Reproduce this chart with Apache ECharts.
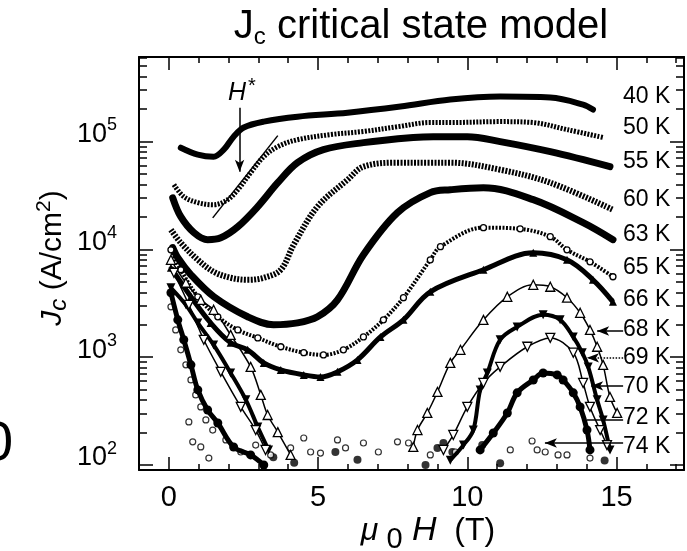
<!DOCTYPE html>
<html><head><meta charset="utf-8">
<script src="https://cdn.jsdelivr.net/npm/echarts/dist/echarts.min.js"></script>
<style>html,body{margin:0;padding:0;background:#fff}#c{width:687px;height:551px}</style>
</head><body><div id="c"></div>
<script>
// ---------------- data (field in tesla, Jc in A/cm^2) ----------------
const H_40K  = [0.4,0.97,1.5,1.84,2.17,2.51,3.18,4.31,5.99,7.76,9.43,11.1,12.78,13.88,14.21];
const Jc_40K = [87700,75700,72400,84100,111000,135000,153000,170000,185000,211000,245000,261000,256000,220000,198000];

const H_50K  = [0.17,0.5,0.97,1.5,1.97,2.31,2.74,3.18,3.65,4.31,5.42,6.52,7.66,8.76,9.43,11.1,12.2,13.34,14.55];
const Jc_50K = [39800,30800,27100,25900,28900,35700,51400,72400,89700,104000,116000,124000,137000,150000,150000,153000,150000,129000,109000];

const H_55K  = [0.13,0.4,0.84,1.3,1.74,2.31,2.98,3.65,4.31,5.18,6.52,8.19,8.86,10.0,11.1,12.78,14.78];
const Jc_55K = [30100,20100,14300,12300,12800,16200,24900,41500,63700,84100,97700,109000,111000,111000,99800,80500,58500];

const H_60K  = [0.07,0.4,0.97,1.5,2.07,2.64,3.18,3.75,4.18,4.98,5.99,6.52,7.66,8.76,9.43,11.1,12.78,14.88];
const Jc_60K = [15200,11500,8000,6200,5450,5220,5450,6470,11000,24900,44300,58500,63700,63700,63700,54800,41500,23300];

const H_63K  = [0.13,0.3,0.74,1.51,2.64,3.51,4.31,4.98,5.65,6.52,7.66,8.76,9.43,10.54,12.21,13.88,14.88];
const Jc_63K = [10400,8360,5810,3630,2370,2000,2080,2370,3400,8910,21900,33600,35700,37300,28900,17700,12300];

const H_65K  = [0.07,0.4,0.97,1.64,2.31,2.98,3.75,4.52,5.18,5.85,6.52,7.19,7.86,8.76,9.1,10.54,11.77,12.78,13.34,14.11,14.88];
const Jc_65K = [9910,6470,3630,2370,1790,1510,1250,1100,1050,1170,1540,2220,3560,8000,10600,15900,15500,13100,9910,7670,5570];

const H_66K  = [0.07,0.74,1.4,2.07,2.64,3.18,3.75,4.52,5.08,5.65,6.32,7.09,7.86,8.76,10.54,12.21,13.34,14.21,14.88];
const Jc_66K = [6750,3630,2080,1360,1170,885,762,685,656,731,944,1540,2220,4040,6470,9290,8000,5220,3260];

const H_68K_low  = [0.07,0.57,1.07,1.5,2.07,2.74,3.08,3.31,3.65,4.08];
const Jc_68K_low = [8000,4900,3400,2750,1610,813,447,291,202,124];
const H_68K_high  = [8.19,8.33,8.66,9.0,9.43,9.77,10.54,11.34,12.21,12.78,13.34,13.78,14.11,14.35,14.55,14.78,15.02];
const Jc_68K_high = [147,211,304,476,885,1170,2220,3630,4690,4500,3560,2580,1790,1250,849,428,304];

const H_69K_low  = [0.07,0.57,0.97,1.5,2.07,2.58,2.98,3.34];
const Jc_69K_low = [4400,3060,2080,1300,714,402,225,138];
const H_69K_high  = [9.43,9.87,10.2,10.43,10.67,11.1,11.67,12.54,13.11,13.55,13.85,14.05,14.35,14.55,14.78];
const Jc_69K_high = [111,153,211,497,714,1450,1910,2470,2220,1540,1100,813,402,262,138];

const H_70K_low  = [0.17,0.67,1.17,1.74,2.41,2.91,3.24];
const Jc_70K_low = [6070,3060,1450,731,346,211,138];
const H_70K_high  = [9.2,9.53,10.0,10.54,11.1,12.01,12.78,13.55,13.88,14.11,14.45,14.68];
const Jc_70K_high = [138,190,346,577,813,1250,1510,1100,577,346,211,153];

const H_72K_low  = [0.07,0.3,0.5,0.74,0.97,1.3,1.64,2.17,2.74,3.18];
const Jc_72K_low = [3960,2220,1450,849,497,324,245,147,124,100];
const H_72K_high  = [10.43,10.87,11.34,11.67,12.21,12.54,13.01,13.21,13.55,13.78,14.01,14.11];
const Jc_72K_high = [138,198,304,467,615,714,685,615,467,346,211,138];
const H_72K_noise  = [3.5,4.2,5.58,6.32,8.6,9.0,9.2,9.5,10.5,11.1,14.6];
const Jc_72K_noise = [118,105,132,112,100,144,160,132,153,104,110];

const H_74K  = [0.07,0.23,0.4,0.57,0.74,0.9,1.07,1.24,0.67,1.47,0.8,1.07,1.34,1.91,2.41,2.91,3.41,4.08,4.52,4.75,5.08,5.65,5.92,6.52,7.02,7.66,8.03,8.76,9.6,11.44,12.17,12.34,12.61,13.04,13.34,14.11];
const Jc_74K = [2930,1790,1170,849,615,447,346,262,251,211,164,147,116,171,132,153,124,144,178,132,129,171,144,160,132,164,160,124,132,138,167,138,132,124,124,116];

// annotations (field, Jc)
const hStarArrowH = [2.37, 2.37], hStarArrowJc = [206000, 52500];
const tangentH = [1.47, 3.65], tangentJc = [19600, 113500];
const pointerStartH = 15.22;
const pointerEndH  = [14.35, 14.01, 14.15, 14.01, 12.6];   // 68,69,70,72,74 K
const pointerJc    = [1750, 986, 542, 262, 160];

// labels and ticks
const tempLabels = ['40 K','50 K','55 K','60 K','63 K','65 K','66 K','68 K','69 K','70 K','72 K','74 K'];
const xTickLabels = [0, 5, 10, 15];
const yDecades = [100, 1000, 10000, 100000];

// ---------------- helpers ----------------
const lg = v => Math.log10(v);
const pts = (xs, ys) => xs.map((x, i) => [x, lg(ys[i])]);
const joinSeg = (a, b) => a.concat([null], b);

const FONT = '"Liberation Sans", Arial, Helvetica, sans-serif';
const X_MIN = -1, X_MAX = 17.26;
const Y_MIN = lg(89.9), Y_MAX = lg(608000);
const decadeLogs = yDecades.map(lg);
const minorLogs = [];
for (let n = 1; n <= 5; n++) for (let k = 2; k <= 9; k++) {
  const v = lg(k * Math.pow(10, n));
  if (v > Y_MIN && v < Y_MAX) minorLogs.push(v);
}
const minorX = [];
for (let v = -1; v <= 17; v++) if (xTickLabels.indexOf(v) < 0) minorX.push(v);

const BLACK = '#000';
const axisLineMain = { show: true, onZero: false, lineStyle: { color: BLACK, width: 2 } };
const axisLineHidden = { show: false, onZero: false };

function xAxisDef(grid, pos, major) {
  return {
    gridIndex: grid, type: 'value', position: pos, min: X_MIN, max: X_MAX,
    axisLine: grid === 0 ? axisLineMain : axisLineHidden,
    axisTick: { show: true, inside: true, length: major ? 13 : 6, customValues: major ? xTickLabels : minorX,
                lineStyle: { color: BLACK, width: 1.5 } },
    axisLabel: (grid === 0 && pos === 'bottom') ?
      { show: true, customValues: xTickLabels, margin: 13, fontSize: 29, color: BLACK, fontFamily: FONT } : { show: false },
    splitLine: { show: false }
  };
}
function yAxisDef(grid, pos, major) {
  return {
    gridIndex: grid, type: 'value', position: pos, min: Y_MIN, max: Y_MAX,
    axisLine: grid === 0 ? axisLineMain : axisLineHidden,
    axisTick: { show: true, inside: true, length: major ? 14 : 8, customValues: major ? decadeLogs : minorLogs,
                lineStyle: { color: BLACK, width: 1.5 } },
    axisLabel: (grid === 0 && pos === 'left') ? {
      show: true, customValues: decadeLogs, margin: 22, padding: [0, 0, 14, 0],
      formatter: v => '{b|10}{s|' + Math.round(v) + '}',
      rich: {
        b: { fontSize: 27, color: BLACK, fontFamily: FONT },
        s: { fontSize: 18, color: BLACK, fontFamily: FONT, padding: [0, 0, 18, 0] }
      }
    } : { show: false },
    splitLine: { show: false }
  };
}

function lineSeries(name, data, o) {
  return Object.assign({
    name, type: 'line', xAxisIndex: 0, yAxisIndex: 0, data,
    smooth: 0.35, connectNulls: false, showSymbol: false, symbol: 'none',
    lineStyle: { color: BLACK, width: 6 }, itemStyle: { color: BLACK },
    silent: true, z: 3
  }, o);
}
const openItem = { color: '#fff', borderColor: BLACK, borderWidth: 1.3 };

const series = [
  lineSeries('40 K', pts(H_40K, Jc_40K), { lineStyle: { color: BLACK, width: 6, cap: 'round' } }),
  lineSeries('50 K', pts(H_50K, Jc_50K), { lineStyle: { color: BLACK, width: 5, type: [2, 1.4] } }),
  lineSeries('55 K', pts(H_55K, Jc_55K), { lineStyle: { color: BLACK, width: 7, cap: 'round' } }),
  lineSeries('60 K', pts(H_60K, Jc_60K), { lineStyle: { color: BLACK, width: 6, type: [2, 1.4] } }),
  lineSeries('63 K', pts(H_63K, Jc_63K), { lineStyle: { color: BLACK, width: 7, cap: 'round' } }),
  lineSeries('65 K', pts(H_65K, Jc_65K), { lineStyle: { color: BLACK, width: 4, type: [2, 1.5] },
    showSymbol: true, symbol: 'circle', symbolSize: 6, itemStyle: openItem }),
  lineSeries('66 K', pts(H_66K, Jc_66K), { lineStyle: { color: BLACK, width: 5 },
    showSymbol: true, symbol: 'triangle', symbolSize: 8 }),
  lineSeries('68 K', joinSeg(pts(H_68K_low, Jc_68K_low), pts(H_68K_high, Jc_68K_high)), {
    lineStyle: { color: BLACK, width: 1.5 }, showSymbol: true, symbol: 'triangle', symbolSize: 9, itemStyle: openItem }),
  lineSeries('69 K', joinSeg(pts(H_69K_low, Jc_69K_low), pts(H_69K_high, Jc_69K_high)), {
    lineStyle: { color: BLACK, width: 4 }, showSymbol: true, symbol: 'triangle', symbolRotate: 180, symbolSize: 9 }),
  lineSeries('70 K', joinSeg(pts(H_70K_low, Jc_70K_low), pts(H_70K_high, Jc_70K_high)), {
    lineStyle: { color: BLACK, width: 1.5 }, showSymbol: true, symbol: 'triangle', symbolRotate: 180, symbolSize: 9, itemStyle: openItem }),
  lineSeries('72 K', joinSeg(pts(H_72K_low, Jc_72K_low), pts(H_72K_high, Jc_72K_high)), {
    lineStyle: { color: BLACK, width: 5 }, showSymbol: true, symbol: 'circle', symbolSize: 9 }),
  { name: '72 K', type: 'scatter', xAxisIndex: 0, yAxisIndex: 0, data: pts(H_72K_noise, Jc_72K_noise),
    symbol: 'circle', symbolSize: 8, itemStyle: { color: BLACK }, silent: true },
  { name: '74 K', type: 'scatter', xAxisIndex: 0, yAxisIndex: 0, data: pts(H_74K, Jc_74K),
    symbol: 'circle', symbolSize: 6, itemStyle: { color: '#fff', borderColor: BLACK, borderWidth: 1.2 }, silent: true },
];

// annotations via markLine
function seg(x1, y1, x2, y2, endSymbol, type) {
  return [
    { coord: [x1, lg(y1)], symbol: 'none', lineStyle: { color: BLACK, width: 1.5, type: type || 'solid' } },
    { coord: [x2, lg(y2)], symbol: endSymbol || 'none', symbolSize: [7, 12] }
  ];
}
const markData = [
  seg(hStarArrowH[0], hStarArrowJc[0], hStarArrowH[1], hStarArrowJc[1], 'arrow'),
  seg(tangentH[0], tangentJc[0], tangentH[1], tangentJc[1], 'none')
];
const ptrSym = ['arrow', 'arrow', 'arrow', 'none', 'arrow'];
const ptrType = ['solid', 'dotted', 'solid', 'solid', 'solid'];
pointerEndH.forEach((h, i) => markData.push(seg(pointerStartH, pointerJc[i], h, pointerJc[i], ptrSym[i], ptrType[i])));
series.push({
  name: 'annotations', type: 'line', xAxisIndex: 0, yAxisIndex: 0, data: [], silent: true,
  markLine: { silent: true, animation: false, label: { show: false }, emphasis: { disabled: true },
              lineStyle: { color: BLACK, width: 1.5, type: 'solid' }, data: markData }
});

// text graphics
const labelY = [97, 128, 162, 200, 235, 268, 300, 330, 358, 387, 418, 447];
const graphics = tempLabels.map((t, i) => ({
  type: 'text', x: 623, y: labelY[i], silent: true,
  style: { text: t, fontSize: 23, fontFamily: FONT, fill: BLACK, align: 'left', verticalAlign: 'middle' }
}));
graphics.push({
  type: 'text', x: 421, y: 27, silent: true,
  style: { text: '{j|J}{c|c}{t| critical state model}', align: 'center', verticalAlign: 'middle',
    rich: { j: { fontSize: 40, fontFamily: FONT, fill: BLACK },
            c: { fontSize: 24, fontFamily: FONT, fill: BLACK, padding: [20, 0, 0, 0] },
            t: { fontSize: 40, fontFamily: FONT, fill: BLACK } } }
});
graphics.push({
  type: 'text', x: 53, y: 258, rotation: Math.PI / 2, silent: true,
  style: { text: '{j|J}{c|c}{n| (A/cm}{s|2}{n|)}', align: 'center', verticalAlign: 'middle',
    rich: { j: { fontSize: 30, fontStyle: 'italic', fontFamily: FONT, fill: BLACK },
            c: { fontSize: 24, fontStyle: 'italic', fontFamily: FONT, fill: BLACK, padding: [12, 0, 0, 0] },
            n: { fontSize: 30, fontFamily: FONT, fill: BLACK },
            s: { fontSize: 21, fontFamily: FONT, fill: BLACK, padding: [0, 0, 18, 0] } } }
});
graphics.push({
  type: 'text', x: 428, y: 531, silent: true,
  style: { text: '{m|μ}{z| 0}{h| H}{n|  (T)}', align: 'center', verticalAlign: 'middle',
    rich: { m: { fontSize: 32, fontStyle: 'italic', fontFamily: FONT, fill: BLACK },
            z: { fontSize: 29, fontFamily: FONT, fill: BLACK, padding: [18, 0, 0, 0] },
            h: { fontSize: 34, fontStyle: 'italic', fontFamily: FONT, fill: BLACK },
            n: { fontSize: 32, fontFamily: FONT, fill: BLACK } } }
});
graphics.push({
  type: 'text', x: 228, y: 93, silent: true,
  style: { text: '{h|H}{s|*}', align: 'left', verticalAlign: 'middle',
    rich: { h: { fontSize: 25, fontStyle: 'italic', fontFamily: FONT, fill: BLACK },
            s: { fontSize: 20, fontFamily: FONT, fill: BLACK, padding: [0, 0, 14, 2] } } }
});
graphics.push({
  type: 'text', x: -18, y: 445, silent: true,
  style: { text: '0', fontSize: 56, fontFamily: FONT, fill: BLACK, align: 'left', verticalAlign: 'middle' }
});

const gridBox = { left: 139, right: 3, top: 57, bottom: 81, containLabel: false, outerBoundsMode: 'none' };
const option = {
  animation: false,
  backgroundColor: '#fff',
  grid: [Object.assign({}, gridBox), Object.assign({}, gridBox)],
  xAxis: [xAxisDef(0, 'bottom', true), xAxisDef(0, 'top', true), xAxisDef(1, 'bottom', false), xAxisDef(1, 'top', false)],
  yAxis: [yAxisDef(0, 'left', true), yAxisDef(0, 'right', true), yAxisDef(1, 'left', false), yAxisDef(1, 'right', false)],
  series,
  graphic: graphics
};
const chart = echarts.init(document.getElementById('c'), null, { renderer: 'canvas', width: 687, height: 551 });
chart.setOption(option);
</script>
</body></html>
